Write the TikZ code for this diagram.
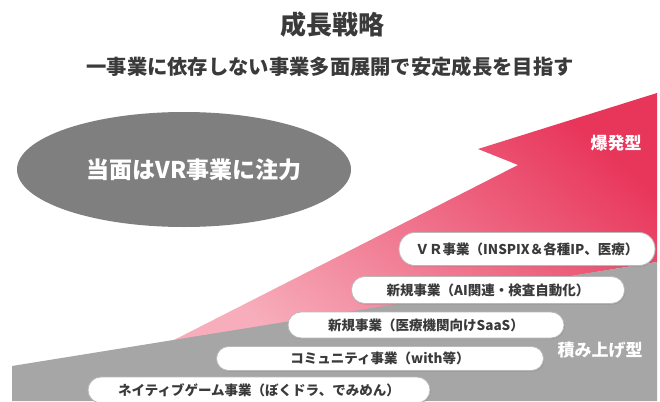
\documentclass[tikz,border=0pt]{standalone}
\usepackage{fontspec}
\setmainfont{Noto Sans CJK JP}
\usetikzlibrary{shadows}
\definecolor{pinkD}{HTML}{E8355A}
\definecolor{pinkL}{HTML}{F7ADBB}
\definecolor{grayB}{HTML}{A6A6A6}
\definecolor{grayE}{HTML}{7F7F7F}
\definecolor{txt}{HTML}{3A3A3A}
\tikzset{
  bizbox/.style={fill=white, draw=gray!55, line width=0.8pt, text=txt,
    font=\fontsize{13.5}{16}\selectfont\bfseries, inner sep=0pt,
    drop shadow={shadow xshift=0.8pt, shadow yshift=-1.2pt, opacity=0.35}},
  whitelabel/.style={text=white, font=\fontsize{17}{20}\selectfont\bfseries}
}
\begin{document}
\begin{tikzpicture}[x=1pt,y=-1pt]
\useasboundingbox (0,0) rectangle (660,401);
% title
\node[text=txt, font=\fontsize{26}{30}\selectfont\bfseries] (title) at (332,25) {成長戦略};
\node[text=txt, font=\fontsize{20.3}{24}\selectfont\bfseries] (sub) at (330,67) {一事業に依存しない事業多面展開で安定成長を目指す};
% ellipse
\fill[grayE] (184,169.5) ellipse [x radius=167, y radius=57.5];
\node[text=white, font=\fontsize{23}{26}\selectfont\bfseries] (focus) at (194,170) {当面はVR事業に注力};
% pink growth shape
\shade[top color=pinkD, bottom color=pinkL, shading angle=-40]
  (170,342) -- (518,165) -- (478,149) -- (657,93) -- (657,262) -- cycle;
% gray base
\fill[grayB] (12,366) -- (657,262) -- (657,401) -- (12,401) -- cycle;
% labels
\node[whitelabel] (boom) at (616,143) {爆発型};
\node[whitelabel] (stack) at (600,350) {積み上げ型};
% boxes
\node[bizbox, minimum width=256pt, minimum height=33pt, rounded corners=16pt] (vr) at (527,249) {ＶＲ事業（INSPIX＆各種IP、医療）};
\node[bizbox, minimum width=273pt, minimum height=27pt, rounded corners=13pt] (ai) at (488,290) {新規事業（AI関連・検査自動化）};
\node[bizbox, minimum width=276pt, minimum height=26pt, rounded corners=13pt] (saas) at (426,325) {新規事業（医療機関向けSaaS）};
\node[bizbox, minimum width=327pt, minimum height=24pt, rounded corners=12pt] (comm) at (380,358.5) {コミュニティ事業（with等）};
\node[bizbox, minimum width=342pt, minimum height=26pt, rounded corners=13pt] (game) at (259,390) {ネイティブゲーム事業（ぼくドラ、でみめん）};
\end{tikzpicture}
\end{document}
